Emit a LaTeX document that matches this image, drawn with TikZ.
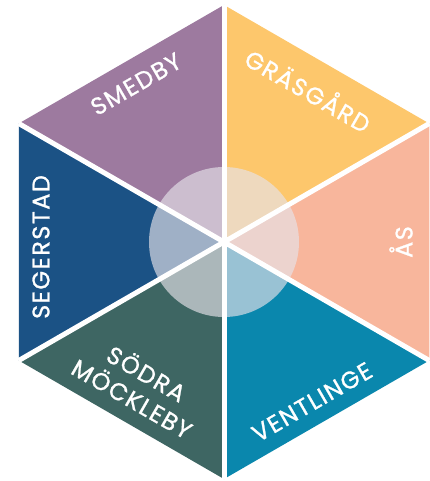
\documentclass[tikz,border=0pt]{standalone}
\usepackage{fontspec}
\setmainfont{Poppins}
\newfontfamily\labelfont{Poppins}[FakeBold=1.0,LetterSpace=6]
\definecolor{cpurple}{HTML}{9D7A9F}
\definecolor{corange}{HTML}{FDC76C}
\definecolor{csalmon}{HTML}{F8B69C}
\definecolor{cteal}{HTML}{0A87AD}
\definecolor{cgreen}{HTML}{3E6663}
\definecolor{cnavy}{HTML}{1B5285}
\definecolor{ccircle}{HTML}{E6E3EA}
\begin{document}
\begin{tikzpicture}[x=1pt,y=-1pt,
  label/.style={text=white,font=\labelfont\fontsize{24}{29}\selectfont,align=center,inner sep=0pt},
  gap/.style={white,line width=5pt}]
\useasboundingbox (0,0) rectangle (430,481);
\coordinate (C) at (224,242);
\coordinate (T) at (224,5);
\coordinate (UR) at (429.25,123.5);
\coordinate (LR) at (429.25,360.5);
\coordinate (B) at (224,479);
\coordinate (LL) at (18.75,360.5);
\coordinate (UL) at (18.75,123.5);
\fill[cpurple] (C) -- (UL) -- (T) -- cycle;
\fill[corange] (C) -- (T) -- (UR) -- cycle;
\fill[csalmon] (C) -- (UR) -- (LR) -- cycle;
\fill[cteal] (C) -- (LR) -- (B) -- cycle;
\fill[cgreen] (C) -- (B) -- (LL) -- cycle;
\fill[cnavy] (C) -- (LL) -- (UL) -- cycle;
\node[circle,minimum size=150pt,inner sep=0pt,fill=ccircle,fill opacity=0.65] (disc) at (C) {};
\foreach \v in {T,UR,LR,B,LL,UL} \draw[gap] (C) -- (\v);
\node[label,rotate=30] (smedby) at (136,84) {SMEDBY};
\node[label,rotate=-30] (grasgard) at (309,89) {GRÄSGÅRD};
\node[label,rotate=90] (as) at (401,242) {ÅS};
\node[label,rotate=30] (ventlinge) at (312,402) {VENTLINGE};
\node[label,rotate=-30] (sodra) at (140,385) {SÖDRA\\MÖCKLEBY};
\node[label,rotate=90] (segerstad) at (41,247) {SEGERSTAD};
\end{tikzpicture}
\end{document}
